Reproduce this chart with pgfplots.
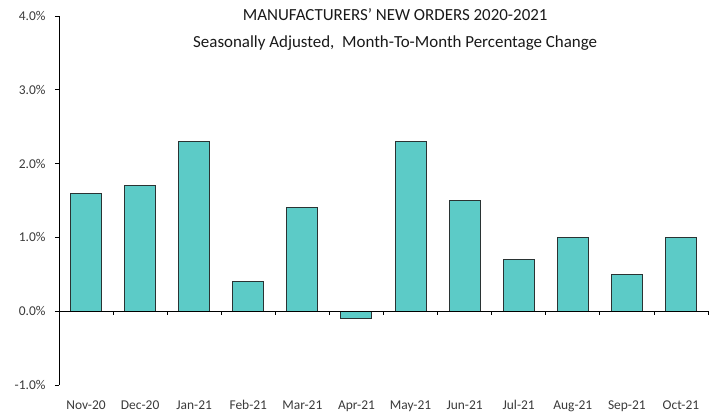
\documentclass[border=0pt]{standalone}
\usepackage{pgfplots}
\pgfplotsset{compat=1.18}
\usepackage{fontspec}
\setmainfont{Carlito}
\definecolor{barfill}{HTML}{5CCBC7}
\definecolor{baredge}{HTML}{2A3333}
\definecolor{lblgray}{HTML}{3A3A3A}
\begin{document}
\begin{tikzpicture}
\begin{axis}[
  scale only axis,
  width=649bp, height=369bp,
  xmin=-0.5, xmax=11.5,
  ymin=-1, ymax=4,
  axis y line*=left,
  axis x line*=bottom,
  x axis line style={draw=none},
  xtick={0,...,11},
  xticklabels={Nov-20,Dec-20,Jan-21,Feb-21,Mar-21,Apr-21,May-21,Jun-21,Jul-21,Aug-21,Sep-21,Oct-21},
  major x tick style={draw=none},
  ytick={-1,0,1,2,3,4},
  yticklabel={\pgfmathprintnumber[fixed,fixed zerofill,precision=1]{\tick}\%},
  /pgf/number format/assume math mode=true,
  tick align=outside,
  major tick length=4bp,
  y axis line style={black, line width=0.9pt},
  ytick style={black, line width=0.8pt},
  tick label style={font=\fontsize{13.5}{16}\selectfont, text=lblgray},
  xticklabel style={yshift=-8bp},
  yticklabel style={anchor=east, xshift=-6bp},
  clip=false,
]
\addplot[ybar, bar width=31bp, fill=barfill, draw=baredge, line width=1pt]
  coordinates {(0,1.6) (1,1.7) (2,2.3) (3,0.4) (4,1.4) (5,-0.1) (6,2.3) (7,1.5) (8,0.7) (9,1.0) (10,0.5) (11,1.0)};
\draw[black, line width=0.9pt] (axis cs:-0.5,0) -- (axis cs:11.5,0);
\pgfplotsinvokeforeach{0.5,1.5,2.5,3.5,4.5,5.5,6.5,7.5,8.5,9.5,10.5,11.5}{\draw[black, line width=0.8pt] (axis cs:#1,0) -- ([yshift=-4bp]axis cs:#1,0);}
\node[align=center, anchor=north, font=\fontsize{17}{27}\selectfont, text=black!90]
  at (rel axis cs:0.518,1.03) {MANUFACTURERS' NEW ORDERS 2020-2021\\Seasonally Adjusted,\ \ Month-To-Month Percentage Change};
\end{axis}
\path (current axis.south west) ++(-59bp,-29bp) coordinate (bbl);
\path (current axis.north east) ++(6bp,16bp) coordinate (btr);
\useasboundingbox (bbl) rectangle (btr);
\end{tikzpicture}
\end{document}
